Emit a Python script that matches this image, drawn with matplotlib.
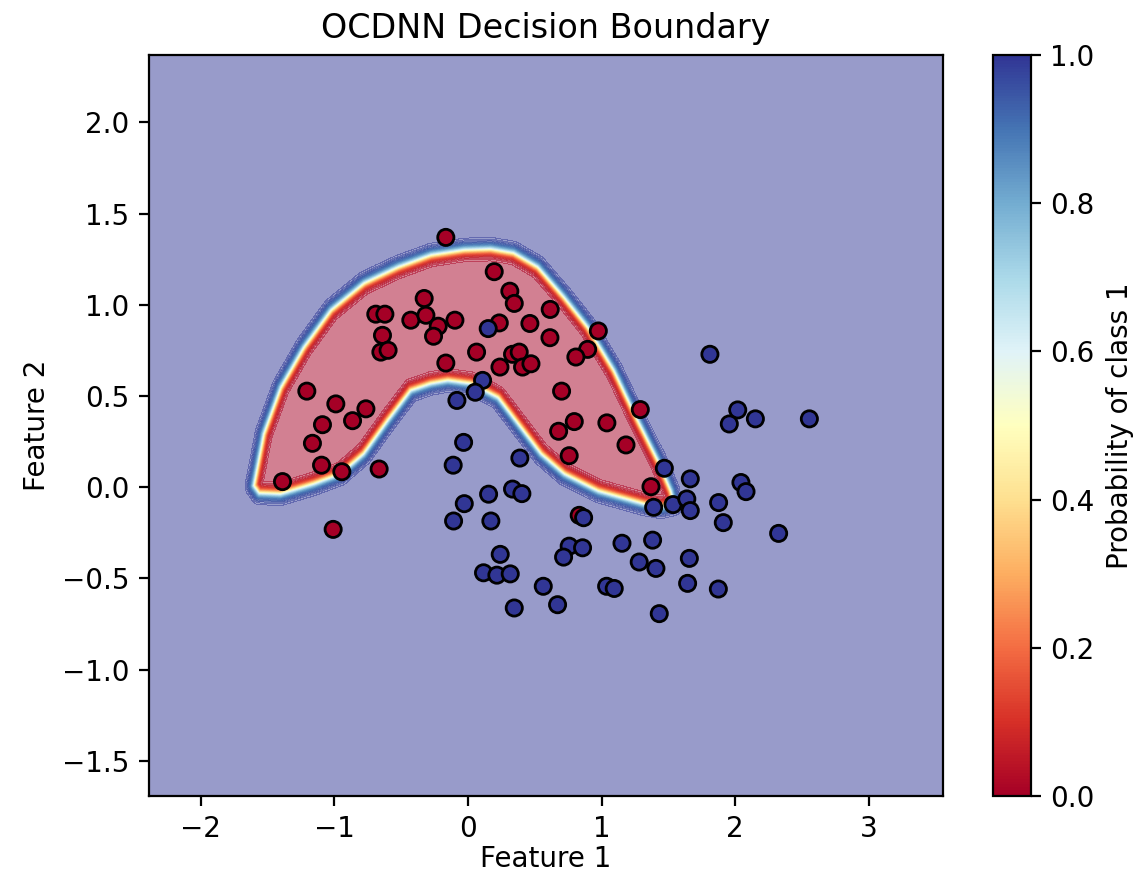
import numpy as np
import matplotlib
matplotlib.use('Agg')
import matplotlib.pyplot as plt
from matplotlib.path import Path

# class 0 samples (red)
red_x = [-0.165, 0.197, 0.314, 0.347, 0.616, -0.327, -0.689, -0.621, -0.427, -0.314,
         -0.222, -0.097, -0.257, -0.639, -0.651, -0.597, 0.065, -0.165, 0.235, 0.464,
         0.614, 0.976, 0.334, 0.384, 0.24, 0.409, 0.472, 0.896, 0.808, 0.701,
         1.29, 0.796, 0.679, 1.04, 1.183, 0.758, 1.37, 0.833, -1.205, -0.988,
         -0.763, -0.863, -1.088, -1.163, -1.095, -0.943, -1.387, -0.664, -1.008]
red_y = [1.37, 1.182, 1.075, 1.008, 0.975, 1.035, 0.949, 0.949, 0.916, 0.943,
         0.883, 0.916, 0.828, 0.833, 0.741, 0.751, 0.741, 0.681, 0.901, 0.898,
         0.82, 0.857, 0.729, 0.741, 0.659, 0.659, 0.677, 0.756, 0.714, 0.527,
         0.426, 0.36, 0.307, 0.353, 0.232, 0.173, 0.003, -0.154, 0.527, 0.457,
         0.43, 0.365, 0.343, 0.241, 0.121, 0.085, 0.031, 0.1, -0.231]

# class 1 samples (blue)
blue_x = [0.152, 0.11, 0.055, -0.082, -0.032, -0.11, 0.389, 0.334, 0.404, 0.155,
          -0.027, -0.107, 0.172, 0.866, 0.242, 0.117, 0.217, 0.317, 0.347, 0.564,
          0.671, 0.758, 0.858, 0.716, 1.153, 1.382, 1.282, 1.407, 1.038, 1.095,
          1.657, 1.644, 1.432, 1.874, 1.47, 1.664, 1.39, 1.535, 1.638, 1.664,
          1.876, 1.911, 2.325, 2.043, 2.081, 1.811, 2.019, 1.956, 2.151, 2.555]
blue_y = [0.87, 0.586, 0.521, 0.476, 0.246, 0.121, 0.16, -0.01, -0.035, -0.038,
          -0.09, -0.185, -0.185, -0.167, -0.368, -0.469, -0.482, -0.475, -0.662, -0.543,
          -0.644, -0.323, -0.332, -0.383, -0.307, -0.29, -0.41, -0.445, -0.543, -0.555,
          -0.39, -0.527, -0.693, -0.558, 0.104, 0.046, -0.11, -0.095, -0.064, -0.128,
          -0.084, -0.194, -0.253, 0.026, -0.024, 0.729, 0.424, 0.347, 0.375, 0.375]

# p = 0.5 outline of the red (class 0) region
edge_x = [-1.602, -1.527, -1.400, -1.228, -1.025, -0.778, -0.524, -0.277, -0.030, 0.172,
          0.344, 0.524, 0.719, 0.898, 1.093, 1.272, 1.422, 1.519, 1.542,
          1.445, 1.317, 0.973, 0.719, 0.546, 0.397, 0.225, 0.022, -0.150, -0.277,
          -0.427, -0.599, -0.778, -0.951, -1.153, -1.400, -1.564]
edge_y = [0.008, 0.294, 0.548, 0.767, 0.971, 1.119, 1.207, 1.273, 1.301, 1.306,
          1.284, 1.207, 1.042, 0.877, 0.640, 0.365, 0.146, -0.020, -0.091,
          -0.108, -0.091, -0.020, 0.074, 0.184, 0.327, 0.492, 0.569, 0.586, 0.569,
          0.531, 0.366, 0.184, 0.074, 0.019, -0.036, -0.031]

X = np.array(red_x + blue_x)
Y = np.array(red_y + blue_y)
labels = np.array([0] * len(red_x) + [1] * len(blue_x))

x_min, x_max = X.min() - 1, X.max() + 1
y_min, y_max = Y.min() - 1, Y.max() + 1
xx, yy = np.meshgrid(np.linspace(x_min, x_max, 700), np.linspace(y_min, y_max, 500))
pts = np.c_[xx.ravel(), yy.ravel()]

# signed distance to the outline -> probability of class 1
poly = np.c_[edge_x, edge_y]
seg_a = poly
seg_b = np.roll(poly, -1, axis=0)
dist = np.full(len(pts), np.inf)
for a, b in zip(seg_a, seg_b):
    ab = b - a
    t = np.clip(((pts - a) @ ab) / (ab @ ab), 0, 1)
    proj = a + t[:, None] * ab
    dist = np.minimum(dist, np.hypot(*(pts - proj).T))
inside = Path(poly).contains_points(pts)
dist[inside] *= -1
Z = 1 / (1 + np.exp(-dist / 0.014))
Z = Z.reshape(xx.shape)

fig = plt.figure(figsize=(5.725, 4.38), dpi=200)
ax = fig.add_axes([0.130, 0.0913, 0.6936, 0.8459])
cax = fig.add_axes([0.867, 0.0913, 0.0332, 0.8459])

ax.contourf(xx, yy, Z, levels=np.linspace(0, 1, 101), cmap='RdYlBu', alpha=0.5)
sc = ax.scatter(X, Y, c=labels, cmap='RdYlBu', vmin=0, vmax=1, s=34, edgecolors='k')
ax.set_xlim(x_min, x_max)
ax.set_ylim(y_min, y_max)
ax.set_title('OCDNN Decision Boundary')
ax.set_xlabel('Feature 1', labelpad=0.5)
ax.set_ylabel('Feature 2')
fig.colorbar(sc, cax=cax, label='Probability of class 1')

fig.savefig('out.png', dpi=200)
